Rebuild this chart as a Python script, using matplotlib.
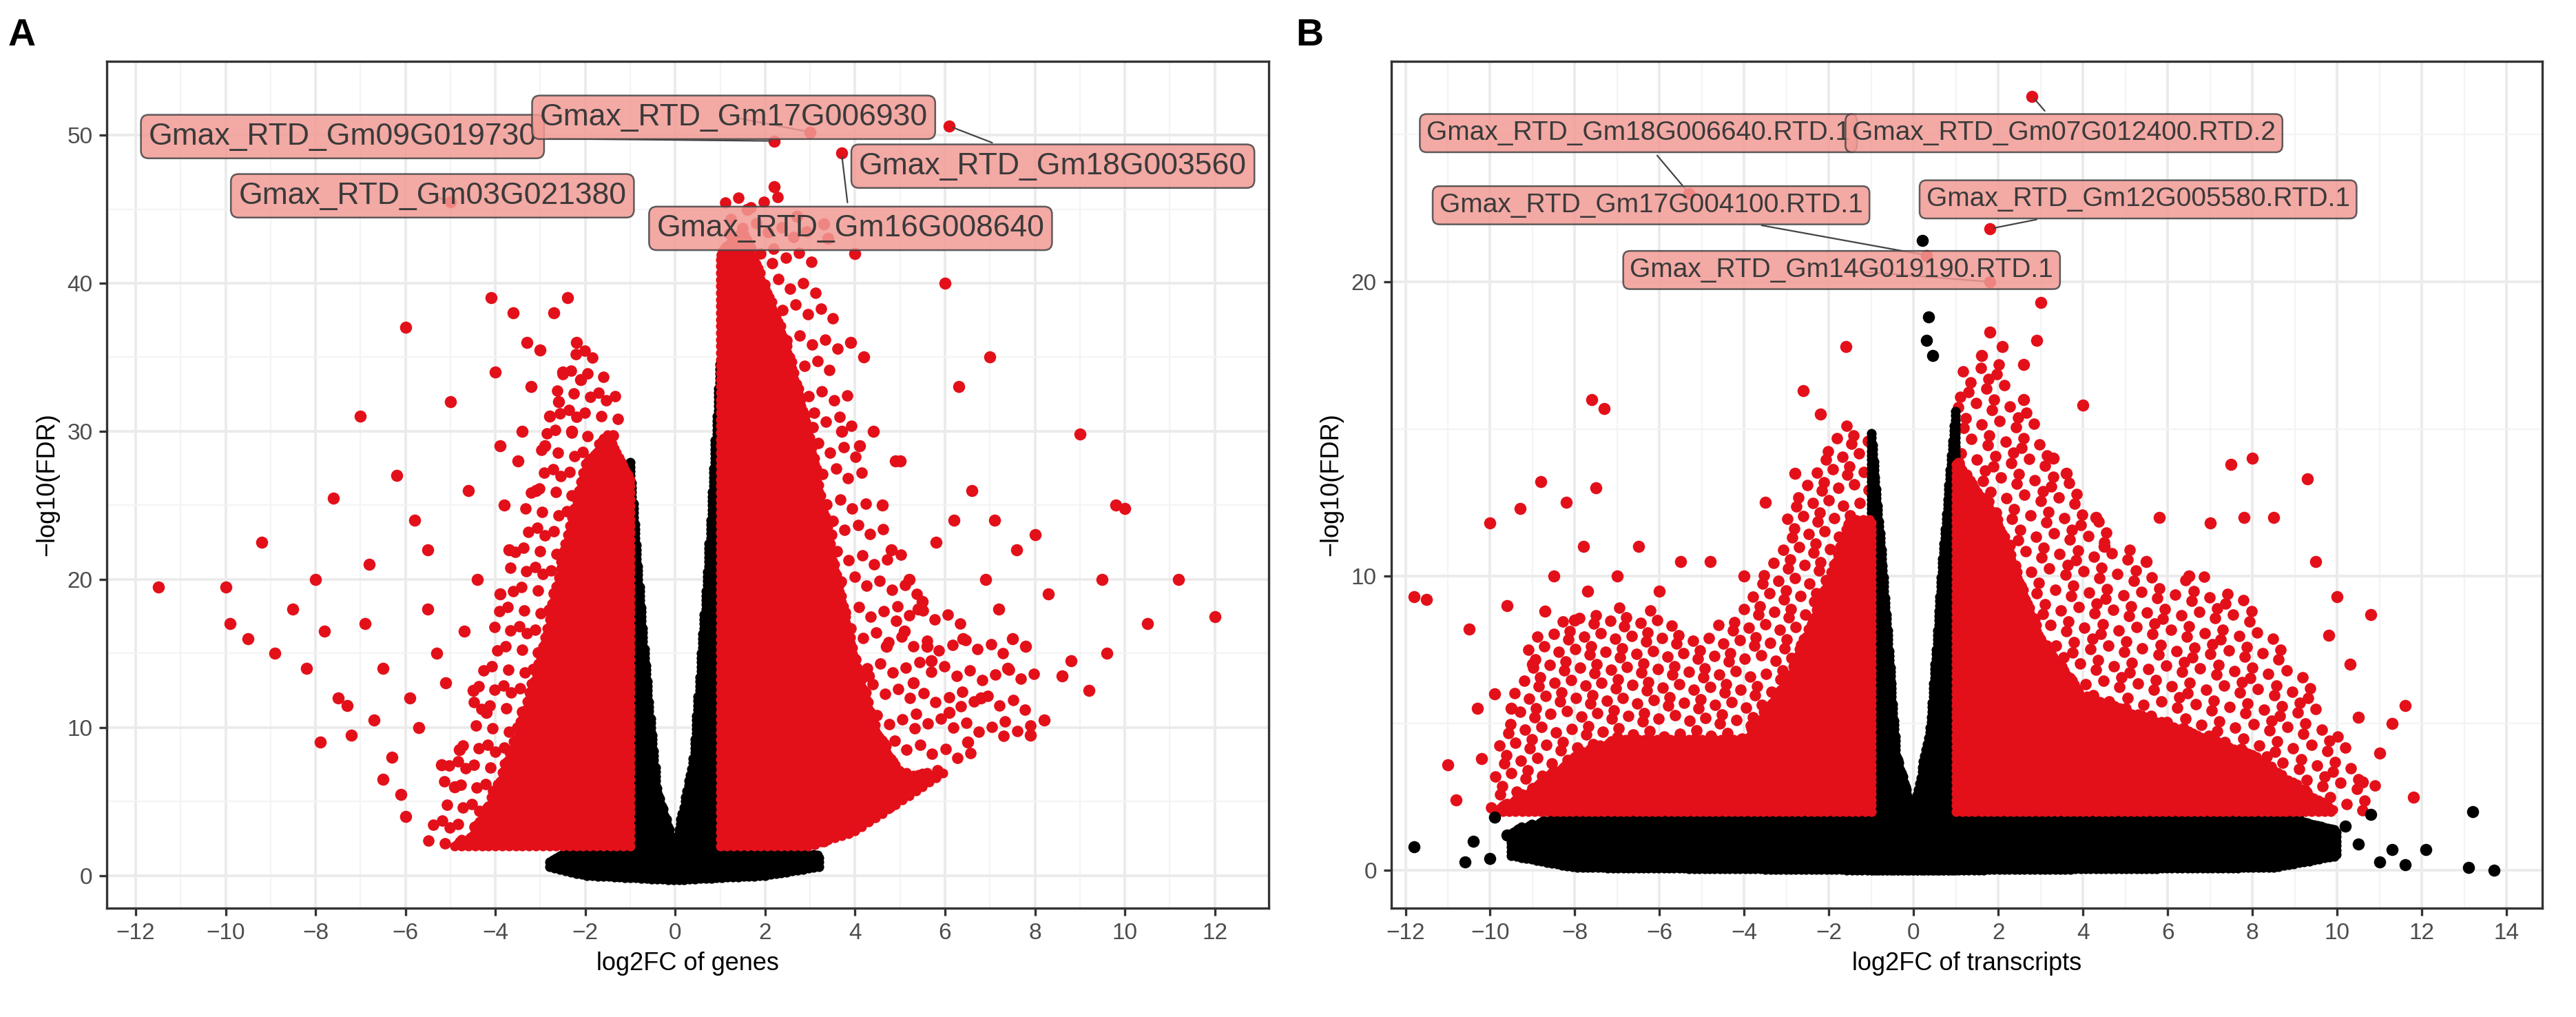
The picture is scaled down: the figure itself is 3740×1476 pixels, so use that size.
import numpy as np
from matplotlib import pyplot as plt

plt.rcParams["font.family"] = ["Liberation Sans", "DejaVu Sans"]

RED = "#E3101A"
BLACK = "#000000"

# ---- panel A (genes): envelopes of the clouds ----
# dense core (top) and the looser outer edge (outer) of each cloud
a_left_x = [-5.5, -5.0, -4.5, -4.0, -3.5, -3.0, -2.5, -2.0, -1.5, -1.0]
a_left_top = [2.0, 2.0, 3.0, 6.0, 10.0, 15.0, 22.0, 28.0, 30.0, 27.0]
a_left_outer = [4.0, 8.0, 12.0, 18.0, 25.0, 30.0, 35.0, 36.0, 34.0, 29.0]
a_left_bot = [2.0] * 10

a_mid_x = [-1.0, -0.7, -0.4, 0.0, 0.4, 0.7, 1.0]
a_mid_top = [28.0, 16.0, 6.0, 2.0, 8.0, 20.0, 35.0]
a_mid_bot = [0.0] * 7

a_band_x = [-2.8, -2.0, 0.0, 2.0, 3.2]
a_band_top = [1.2, 2.0, 2.0, 2.0, 1.4]
a_band_bot = [0.6, 0.0, -0.3, 0.0, 0.6]

a_right_x = [1.0, 1.5, 2.0, 2.5, 3.0, 3.5, 4.0, 4.5, 5.0, 6.0, 7.0, 8.0]
a_right_top = [42.0, 44.0, 40.0, 36.0, 30.0, 22.0, 15.0, 10.0, 7.0, 7.0, 9.0, 10.0]
a_right_outer = [45.0, 47.0, 47.0, 45.0, 44.0, 38.0, 30.0, 25.0, 22.0, 18.0, 16.0, 14.0]
a_right_bot = [2.0, 2.0, 2.0, 2.0, 2.0, 2.5, 3.0, 4.0, 5.0, 7.0, 9.0, 10.0]

# scattered significant points in panel A, (log2FC, -log10 FDR)
a_out = [(-11.5, 19.5), (-10.0, 19.5), (-9.9, 17.0), (-9.5, 16.0), (-9.2, 22.5), (-8.9, 15.0),
         (-8.5, 18.0), (-8.2, 14.0), (-8.0, 20.0), (-7.9, 9.0), (-7.8, 16.5), (-7.6, 25.5),
         (-7.5, 12.0), (-7.3, 11.5), (-7.0, 31.0), (-6.9, 17.0), (-6.7, 10.5), (-6.5, 14.0),
         (-6.3, 8.0), (-6.2, 27.0), (-6.0, 37.0), (-6.0, 4.0), (-5.9, 12.0), (-5.7, 10.0),
         (-5.5, 22.0), (-5.3, 15.0), (-5.2, 7.5), (-5.0, 32.0), (-4.9, 6.0), (-4.8, 8.5),
         (-4.6, 26.0), (-4.5, 12.5), (-4.4, 20.0), (-4.2, 11.0), (-4.1, 39.0), (-4.0, 34.0),
         (-3.9, 19.0), (-3.8, 25.0), (-3.6, 38.0), (-3.5, 28.0), (-3.4, 30.0), (-3.3, 36.0),
         (-3.2, 33.0), (-3.1, 26.0), (-3.0, 35.5), (-2.9, 29.0), (-2.8, 31.0), (-2.7, 38.0),
         (-2.6, 32.0), (-2.5, 34.0), (-2.4, 39.0), (-2.3, 30.0), (-2.2, 36.0), (-2.1, 33.5),
         (-5.5, 18.0), (-6.5, 6.5), (-7.2, 9.5), (-6.8, 21.0), (-5.8, 24.0), (-4.7, 16.5),
         (-3.7, 22.0), (-3.9, 29.0), (-5.1, 13.0), (-6.1, 5.5),
         (4.2, 35.0), (4.4, 30.0), (4.6, 25.0), (4.8, 22.0), (5.0, 28.0), (5.2, 20.0),
         (5.4, 18.0), (5.6, 15.5), (5.8, 22.5), (6.0, 40.0), (6.2, 24.0), (6.4, 16.0),
         (6.6, 26.0), (6.8, 12.0), (7.0, 35.0), (7.2, 18.0), (7.4, 14.0), (7.6, 22.0),
         (7.8, 15.5), (8.0, 23.0), (8.3, 19.0), (8.6, 13.5), (9.0, 29.8), (9.5, 20.0),
         (9.8, 25.0), (10.0, 24.8), (10.5, 17.0), (11.2, 20.0), (12.0, 17.5), (6.1, 11.0),
         (6.9, 20.0), (5.7, 14.5), (4.9, 28.0), (6.5, 9.0), (8.2, 10.5), (9.2, 12.5),
         (5.3, 13.0), (7.5, 16.0), (8.8, 14.5), (9.6, 15.0), (4.3, 13.5), (4.7, 15.5),
         (5.5, 18.5), (6.3, 33.0), (7.1, 24.0), (7.9, 9.5), (5.1, 16.5), (4.5, 7.0),
         (3.7, 30.0), (3.9, 36.0), (4.1, 29.0), (3.3, 44.0), (2.7, 44.5), (2.2, 46.5),
         (1.6, 45.0), (3.4, 43.0), (4.0, 42.0)]

a_labels = ["Gmax_RTD_Gm09G019730", "Gmax_RTD_Gm17G006930", "Gmax_RTD_Gm18G003560",
            "Gmax_RTD_Gm03G021380", "Gmax_RTD_Gm16G008640"]
a_lab_px = [2.2, 3.0, 6.1, -5.0, 3.7]
a_lab_py = [49.6, 50.2, 50.6, 45.5, 48.8]
a_lab_tx = [-7.4, 1.3, 8.4, -5.4, 3.9]
a_lab_ty = [49.9, 51.2, 47.9, 45.9, 43.7]

# ---- panel B (transcripts) ----
b_left_x = [-10.0, -9.0, -8.0, -7.0, -6.0, -5.0, -4.0, -3.0, -2.0, -1.5, -1.0]
b_left_top = [2.0, 2.8, 4.0, 4.5, 4.5, 4.5, 4.5, 6.5, 10.0, 12.0, 12.0]
b_left_outer = [4.0, 8.0, 9.0, 9.0, 9.0, 8.0, 9.0, 12.0, 15.0, 15.5, 15.0]
b_left_bot = [2.0] * 11

b_mid_x = [-1.0, -0.7, -0.4, 0.0, 0.4, 0.7, 1.0]
b_mid_top = [15.0, 10.0, 4.0, 2.0, 5.0, 11.0, 16.0]
b_mid_bot = [0.0] * 7

b_band_x = [-9.5, -8.0, 0.0, 8.5, 10.0]
b_band_top = [1.4, 2.0, 2.0, 2.0, 1.4]
b_band_bot = [0.5, 0.1, 0.0, 0.1, 0.5]

b_right_x = [1.0, 2.0, 3.0, 4.0, 5.0, 6.0, 7.0, 8.0, 9.0, 10.0, 11.0]
b_right_top = [14.0, 12.0, 8.0, 6.0, 5.5, 5.0, 4.5, 4.0, 3.0, 2.0, 2.0]
b_right_outer = [17.0, 17.5, 15.0, 12.5, 11.0, 10.0, 10.0, 9.0, 7.0, 5.0, 3.0]
b_right_bot = [2.0] * 11

b_out = [(-11.8, 9.3), (-11.5, 9.2), (-11.0, 3.6), (-10.5, 8.2), (-10.3, 5.5), (-10.0, 11.8),
         (-9.9, 6.0), (-9.6, 9.0), (-9.3, 12.3), (-9.0, 7.0), (-8.8, 13.2), (-8.5, 10.0),
         (-8.2, 12.5), (-8.0, 8.5), (-7.8, 11.0), (-7.6, 16.0), (-7.5, 13.0), (-7.3, 15.7),
         (-7.0, 10.0), (-6.5, 11.0), (-6.0, 9.5), (-5.5, 10.5), (-4.8, 10.5), (-4.0, 10.0),
         (-3.5, 12.5), (-2.8, 13.5), (-2.6, 16.3), (-2.2, 15.5), (-1.6, 17.8), (-10.8, 2.4),
         (-10.2, 3.8), (-9.5, 5.5), (-8.7, 8.8), (-7.7, 9.5),
         (2.6, 16.0), (3.0, 19.3), (3.3, 14.0), (3.6, 13.5), (4.0, 15.8), (4.3, 12.0),
         (4.5, 11.0), (5.5, 10.5), (5.8, 12.0), (6.5, 10.0), (7.0, 11.8), (7.5, 13.8),
         (7.8, 12.0), (8.0, 14.0), (8.5, 12.0), (9.3, 13.3), (9.5, 10.5), (9.8, 8.0),
         (10.0, 9.3), (10.3, 7.0), (10.5, 5.2), (10.8, 8.7), (11.0, 4.0), (11.3, 5.0),
         (11.6, 5.6), (10.6, 3.0), (11.8, 2.5), (2.9, 18.0), (2.1, 17.8), (1.6, 17.5),
         (1.8, 18.3), (2.6, 17.2)]
b_blk = [(-11.8, 0.8), (-10.6, 0.3), (-10.4, 1.0), (-10.0, 0.4), (-9.9, 1.8), (-9.6, 1.2),
         (-9.4, 0.6), (10.2, 1.5), (10.5, 0.9), (10.8, 1.9), (11.0, 0.3), (11.3, 0.7),
         (11.6, 0.2), (12.1, 0.7), (13.2, 2.0), (13.1, 0.1), (13.7, 0.0), (0.2, 21.4),
         (0.35, 18.8), (0.3, 18.0), (0.45, 17.5)]

b_labels = ["Gmax_RTD_Gm18G006640.RTD.1", "Gmax_RTD_Gm07G012400.RTD.2",
            "Gmax_RTD_Gm17G004100.RTD.1", "Gmax_RTD_Gm12G005580.RTD.1",
            "Gmax_RTD_Gm14G019190.RTD.1"]
b_lab_px = [-5.3, 2.8, 0.3, 1.8, 1.8]
b_lab_py = [23.0, 26.3, 20.9, 21.8, 20.0]
b_lab_tx = [-6.5, 3.55, -6.2, 5.3, -1.7]
b_lab_ty = [25.05, 25.05, 22.6, 22.8, 20.4]


def fill_region(xk, top, bot, dx, dy):
    # lay a staggered grid of points inside an envelope (solid core)
    xs, ys = [], []
    row = 0
    for x in np.arange(xk[0], xk[-1] + 1e-9, dx):
        t = np.interp(x, xk, top)
        b = np.interp(x, xk, bot)
        off = (row % 3) * dy / 3
        for y in np.arange(b + off, t, dy):
            xs.append(x)
            ys.append(y)
        row += 1
    return xs, ys


def spread_region(xk, top, bot, n):
    # even, non-grid spread of points inside an envelope (loose outer edge)
    g = 1.32471795724
    k = np.arange(1, n + 1)
    u = (0.5 + k / g) % 1.0
    v = (0.5 + k / g ** 2) % 1.0
    xs = xk[0] + u * (xk[-1] - xk[0])
    ymax = max(top)
    ys = min(bot) + v * (ymax - min(bot))
    keep = (ys <= np.interp(xs, xk, top)) & (ys >= np.interp(xs, xk, bot))
    return xs[keep], ys[keep]


def style_axes(ax, xlim, ylim, xticks, yticks, xlabel):
    ax.set_xlim(xlim)
    ax.set_ylim(ylim)
    ax.set_xticks(xticks)
    ax.set_yticks(yticks)
    ax.set_xticks([t + (xticks[1] - xticks[0]) / 2 for t in xticks[:-1]], minor=True)
    ax.set_yticks([t + (yticks[1] - yticks[0]) / 2 for t in yticks], minor=True)
    ax.grid(True, which="major", color="#EBEBEB", linewidth=1.4)
    ax.grid(True, which="minor", color="#F4F4F4", linewidth=0.8)
    ax.set_axisbelow(True)
    ax.tick_params(which="minor", length=0)
    ax.tick_params(which="major", labelsize=12, color="#333333", labelcolor="#4D4D4D",
                   length=4, width=1.2)
    for s in ax.spines.values():
        s.set_color("#333333")
        s.set_linewidth(1.2)
    ax.set_xlabel(xlabel, fontsize=13)
    ax.set_ylabel("\u2212log10(FDR)", fontsize=13)


def draw_panel(ax, loose, solid, out, labels, px, py, tx, ty, fsize):
    for (xk, top, bot, n) in loose:
        xs, ys = spread_region(xk, top, bot, n)
        ax.scatter(xs, ys, s=36, c=RED, linewidths=0, zorder=2)
    for (xk, top, bot, col, dx, dy) in solid:
        xs, ys = fill_region(xk, top, bot, dx, dy)
        ax.scatter(xs, ys, s=26, c=col, linewidths=0, zorder=2)
    ox, oy = zip(*out)
    ax.scatter(ox, oy, s=40, c=RED, linewidths=0, zorder=2)
    ax.scatter(px, py, s=40, c=RED, linewidths=0, zorder=2)
    for lab, x0, y0, x1, y1 in zip(labels, px, py, tx, ty):
        ax.annotate(lab, xy=(x0, y0), xytext=(x1, y1), ha="center", va="center",
                    fontsize=fsize, color="#3A3A3A", zorder=4,
                    bbox=dict(boxstyle="round,pad=0.25", fc="#F29A94", ec="#444444", lw=0.9, alpha=0.85),
                    arrowprops=dict(arrowstyle="-", color="#444444", lw=0.8))


fig = plt.figure(figsize=(18.7, 7.38), dpi=200)
axA = fig.add_axes([0.0415, 0.107, 0.451, 0.833])
axB = fig.add_axes([0.540, 0.107, 0.447, 0.833])

draw_panel(axA,
           [(a_left_x, a_left_outer, a_left_bot, 420),
            (a_right_x, a_right_outer, a_right_bot, 650)],
           [(a_band_x, a_band_top, a_band_bot, BLACK, 0.04, 0.3),
            (a_mid_x, a_mid_top, a_mid_bot, BLACK, 0.035, 0.3),
            (a_left_x, a_left_top, a_left_bot, RED, 0.05, 0.45),
            (a_right_x, a_right_top, a_right_bot, RED, 0.05, 0.45)],
           a_out, a_labels, a_lab_px, a_lab_py, a_lab_tx, a_lab_ty, 16)
style_axes(axA, (-12.64, 13.2), (-2.2, 52.9), list(range(-12, 13, 2)), [0, 10, 20, 30, 40, 50],
           "log2FC of genes")

draw_panel(axB,
           [(b_left_x, b_left_outer, b_left_bot, 800),
            (b_right_x, b_right_outer, b_right_bot, 900)],
           [(b_band_x, b_band_top, b_band_bot, BLACK, 0.04, 0.15),
            (b_mid_x, b_mid_top, b_mid_bot, BLACK, 0.03, 0.15),
            (b_left_x, b_left_top, b_left_bot, RED, 0.05, 0.2),
            (b_right_x, b_right_top, b_right_bot, RED, 0.05, 0.2)],
           b_out, b_labels, b_lab_px, b_lab_py, b_lab_tx, b_lab_ty, 14)
bx, by = zip(*b_blk)
axB.scatter(bx, by, s=40, c=BLACK, linewidths=0, zorder=2)
style_axes(axB, (-12.34, 14.85), (-1.28, 27.5), list(range(-12, 15, 2)), [0, 10, 20],
           "log2FC of transcripts")

fig.text(0.003, 0.955, "A", fontsize=20, fontweight="bold")
fig.text(0.503, 0.955, "B", fontsize=20, fontweight="bold")

fig.savefig("out.png", dpi=200)
